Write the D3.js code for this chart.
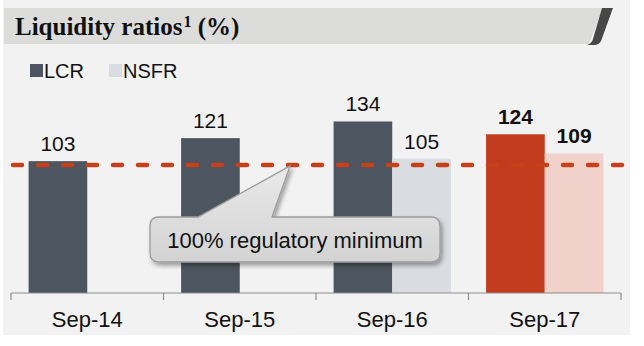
<!DOCTYPE html>
<html>
<head>
<meta charset="utf-8">
<script src="https://cdn.jsdelivr.net/npm/d3@7"></script>
<style>
  html, body { margin: 0; padding: 0; background: #ffffff; }
  svg { display: block; }
</style>
</head>
<body>
<div id="chart"></div>
<script>
// Liquidity ratios by reporting date
const categories = ["Sep-14", "Sep-15", "Sep-16", "Sep-17"];
const seriesNames = ["LCR", "NSFR"];
const lcrValues = [103, 121, 134, 124];
const nsfrValues = [null, null, 105, 109];
const regulatoryMinimum = 100;
const titleText = "Liquidity ratios";
const titleSup = "1";
const titleTail = " (%)";
const calloutText = "100% regulatory minimum";

const W = 644, H = 346;
const colors = {
  panel: "#f2f2f2",
  header: "#dcdddb",
  headerAccent: "#474747",
  lcr: "#4d5560",
  nsfr: "#d9dce1",
  lcrHi: "#c23b1c",
  nsfrHi: "#f0d2cb",
  minLine: "#c8401a",
  axis: "#8c8c8c",
  text: "#111111"
};
const sans = "'Liberation Sans', Arial, sans-serif";

const svg = d3.select("#chart").append("svg")
  .attr("width", W).attr("height", H);

const defs = svg.append("defs");
const shadow = defs.append("filter").attr("id", "calloutShadow")
  .attr("x", "-10%").attr("y", "-20%").attr("width", "130%").attr("height", "160%");
shadow.append("feDropShadow").attr("dx", 2).attr("dy", 3).attr("stdDeviation", 2)
  .attr("flood-color", "#000").attr("flood-opacity", 0.35);
const grad = defs.append("linearGradient").attr("id", "calloutFill")
  .attr("x1", 0).attr("y1", 0).attr("x2", 0).attr("y2", 1);
grad.append("stop").attr("offset", "0%").attr("stop-color", "#e9e9e9");
grad.append("stop").attr("offset", "100%").attr("stop-color", "#d3d3d3");

// Panel background
svg.append("rect").attr("x", 3).attr("y", 0).attr("width", 627).attr("height", 335)
  .attr("fill", colors.panel);

// Header band with slanted accent
svg.append("path")
  .attr("d", "M4,8 L603,8 L589,44 L4,44 Z")
  .attr("fill", colors.header);
svg.append("path")
  .attr("d", "M602,8 L613,8 L601,41 Q599,45 594,45 L587,45 Q592,43 593,39 Z")
  .attr("fill", colors.headerAccent);

const title = svg.append("text")
  .attr("x", 15).attr("y", 35)
  .attr("font-family", "'Liberation Serif', 'Times New Roman', serif")
  .attr("font-weight", "bold").attr("font-size", 25)
  .attr("fill", colors.text);
title.append("tspan").text(titleText);
title.append("tspan").attr("font-size", 16)
  .attr("dx", 1).attr("dy", -8).text(titleSup);
title.append("tspan").attr("dy", 8).text(titleTail);

// Legend
const legend = svg.append("g")
  .attr("font-family", sans).attr("font-size", 20)
  .attr("fill", colors.text);
const legendItems = [
  { name: seriesNames[0], color: colors.lcr, x: 30 },
  { name: seriesNames[1], color: colors.nsfr, x: 109 }
];
legendItems.forEach(d => {
  legend.append("rect").attr("x", d.x).attr("y", 64).attr("width", 13).attr("height", 13)
    .attr("fill", d.color);
  legend.append("text").attr("x", d.x + 14).attr("y", 78).text(d.name);
});

// Scales
const plot = { left: 11, right: 621, base: 293 };
const x = d3.scaleBand().domain(categories).range([plot.left, plot.right])
  .paddingInner(0).paddingOuter(0);
const xSub = d3.scaleBand().domain(seriesNames).range([0, x.bandwidth()])
  .paddingOuter(0.3).paddingInner(0);
const y = d3.scaleLinear().domain([0, 200]).range([plot.base, plot.base - 256]);

const rows = categories.map((c, i) => ({
  cat: c, idx: i,
  vals: [
    { key: "LCR", v: lcrValues[i] },
    { key: "NSFR", v: nsfrValues[i] }
  ]
}));
const last = categories.length - 1;
const fillFor = (d, i) => {
  if (d.key === "LCR") return i === last ? colors.lcrHi : colors.lcr;
  return i === last ? colors.nsfrHi : colors.nsfr;
};

const groups = svg.append("g").selectAll("g").data(rows).join("g")
  .attr("transform", d => `translate(${x(d.cat)},0)`);
const present = d => d.vals.filter(v => v.v != null).map(v => ({ ...v, idx: d.idx }));

groups.selectAll("rect").data(present)
  .join("rect")
  .attr("x", d => xSub(d.key))
  .attr("y", d => y(d.v))
  .attr("width", xSub.bandwidth())
  .attr("height", d => y(0) - y(d.v))
  .attr("fill", d => fillFor(d, d.idx));

groups.selectAll("text").data(present)
  .join("text")
  .attr("x", d => xSub(d.key) + xSub.bandwidth() / 2)
  .attr("y", d => y(d.v) - 10)
  .attr("text-anchor", "middle")
  .attr("font-family", sans)
  .attr("font-size", 21)
  .attr("font-weight", d => d.idx === last ? "bold" : "normal")
  .attr("fill", colors.text)
  .text(d => d.v);

// X axis: baseline, group separators and category labels
const axisG = svg.append("g").attr("transform", `translate(0,${plot.base})`);
axisG.append("line").attr("x1", plot.left).attr("x2", plot.right)
  .attr("stroke", colors.axis).attr("stroke-width", 1.2);
axisG.selectAll("line.sep").data(d3.range(categories.length + 1)).join("line")
  .attr("class", "sep")
  .attr("x1", i => plot.left + i * x.step()).attr("x2", i => plot.left + i * x.step())
  .attr("y1", 0).attr("y2", 7)
  .attr("stroke", colors.axis).attr("stroke-width", 1.2);
const xAxis = d3.axisBottom(x).tickSize(0).tickPadding(0);
const labelAxis = svg.append("g").attr("transform", `translate(0,${plot.base + 34})`).call(xAxis);
labelAxis.select(".domain").remove();
labelAxis.selectAll("text")
  .attr("font-family", sans)
  .attr("font-size", 22).attr("fill", colors.text).attr("dy", 0);

// Regulatory minimum line
const yMin = y(regulatoryMinimum);
svg.append("line")
  .attr("x1", 10).attr("x2", 624).attr("y1", yMin).attr("y2", yMin)
  .attr("stroke", colors.minLine).attr("stroke-width", 4.5)
  .attr("stroke-dasharray", "9 16").attr("stroke-linecap", "round")
  .attr("stroke-dashoffset", -3);

// Callout with pointer toward the minimum line
const box = { x: 150, y: 217, w: 290, h: 45, r: 9 };
const tip = { x: 290, y: yMin + 1 };
const notch = { left: 198, right: 272 };
const calloutPath = [
  `M${box.x + box.r},${box.y}`,
  `L${notch.left},${box.y}`,
  `L${tip.x},${tip.y}`,
  `L${notch.right},${box.y}`,
  `L${box.x + box.w - box.r},${box.y}`,
  `Q${box.x + box.w},${box.y} ${box.x + box.w},${box.y + box.r}`,
  `L${box.x + box.w},${box.y + box.h - box.r}`,
  `Q${box.x + box.w},${box.y + box.h} ${box.x + box.w - box.r},${box.y + box.h}`,
  `L${box.x + box.r},${box.y + box.h}`,
  `Q${box.x},${box.y + box.h} ${box.x},${box.y + box.h - box.r}`,
  `L${box.x},${box.y + box.r}`,
  `Q${box.x},${box.y} ${box.x + box.r},${box.y}`,
  "Z"
].join(" ");
svg.append("path").attr("d", calloutPath)
  .attr("fill", "url(#calloutFill)").attr("stroke", "#9c9c9c").attr("stroke-width", 1.3)
  .attr("filter", "url(#calloutShadow)");
svg.append("text")
  .attr("x", box.x + box.w / 2).attr("y", box.y + 31)
  .attr("text-anchor", "middle")
  .attr("font-family", sans).attr("font-size", 22)
  .attr("fill", colors.text)
  .text(calloutText);
</script>
</body>
</html>
